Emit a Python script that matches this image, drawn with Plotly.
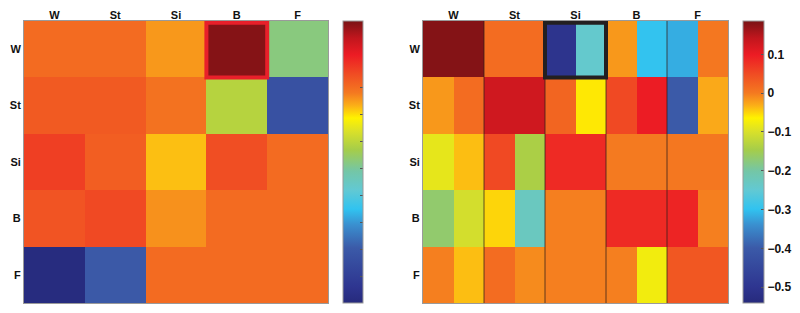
import plotly.graph_objects as go

labels = ["W", "St", "Si", "B", "F"]

# Left panel: 5x5 matrix (unlabelled colour scale)
left_values = [
    [-0.200, -0.200, -0.248, 0.035, -0.477],
    [-0.174, -0.174, -0.211, -0.410, -0.833],
    [-0.133, -0.180, -0.279, -0.154, -0.200],
    [-0.164, -0.148, -0.242, -0.200, -0.200],
    [-0.990, -0.801, -0.200, -0.200, -0.200],
]
left_range = [-1.0, 0.045]
left_ticks = [-0.9, -0.8, -0.7, -0.6, -0.5, -0.4, -0.3, -0.2]

# Right panel: 5 rows x 10 sub-columns (two per label)
right_values = [
    [0.180, 0.180, 0.015, 0.015, -0.505, -0.243, -0.018, -0.297, -0.316, 0.003],
    [-0.018, 0.015, 0.128, 0.128, 0.022, -0.059, 0.052, 0.099, -0.399, -0.028],
    [-0.087, -0.039, 0.052, -0.141, 0.084, 0.084, 0.000, 0.000, 0.003, 0.003],
    [-0.167, -0.105, -0.050, -0.228, -0.003, -0.003, 0.084, 0.084, 0.090, -0.003],
    [-0.003, -0.039, 0.015, -0.010, -0.003, -0.003, -0.003, -0.076, 0.037, 0.037],
]
right_range = [-0.541, 0.186]
right_ticks = [0.1, 0, -0.1, -0.2, -0.3, -0.4, -0.5]
sub_per_label = 2

highlight_left = ("W", "B")
highlight_right = ("W", "Si")

colorscale = [
    [0.000, "#262a7c"], [0.057, "#2e3590"], [0.195, "#3b5aa8"],
    [0.277, "#3a8fcf"], [0.333, "#31c3f0"], [0.401, "#62c9d3"],
    [0.468, "#74c6a6"], [0.543, "#a5cd4a"], [0.610, "#dbe128"],
    [0.656, "#fff200"], [0.702, "#fbad18"], [0.745, "#f47920"],
    [0.809, "#f04e23"], [0.879, "#ed1c24"], [0.940, "#c1161d"],
    [1.000, "#7a1315"],
]

FONT = "Liberation Sans, Arial, sans-serif"
# page body has an 8px default margin; size the figure to fill the rest
OFF = 8
W, H = 800 - OFF, 313 - OFF


def px_x(x):
    return (x - OFF) / W


def px_y(y):
    return (H - (y - OFF)) / H


ydom = [px_y(303), px_y(21)]

fig = go.Figure()

fig.add_trace(go.Heatmap(
    z=left_values, x=list(range(len(labels))), y=list(range(len(labels))),
    colorscale=colorscale, zmin=left_range[0], zmax=left_range[1],
    zsmooth=False, xaxis="x", yaxis="y",
    colorbar=dict(
        x=px_x(343), xanchor="left", y=ydom[0], yanchor="bottom",
        len=ydom[1] - ydom[0], lenmode="fraction", thickness=20,
        outlinewidth=1, outlinecolor="#9a9a9a", xpad=0, ypad=0,
        tickvals=left_ticks, showticklabels=False,
        ticks="inside", ticklen=3, tickcolor="#555",
    ),
))

n_sub = len(right_values[0])
fig.add_trace(go.Heatmap(
    z=right_values, x=list(range(n_sub)), y=list(range(len(labels))),
    colorscale=colorscale, zmin=right_range[0], zmax=right_range[1],
    zsmooth=False, xaxis="x2", yaxis="y2",
    colorbar=dict(
        x=px_x(743), xanchor="left", y=ydom[0], yanchor="bottom",
        len=ydom[1] - ydom[0], lenmode="fraction", thickness=21,
        outlinewidth=1, outlinecolor="#9a9a9a", xpad=0, ypad=0,
        tickvals=right_ticks,
        ticktext=[("\u2212" if v < 0 else "") + f"{abs(v):g}" for v in right_ticks],
        ticks="inside", ticklen=3, tickcolor="#555",
        tickfont=dict(family=FONT, size=12, color="#111", weight="bold"),
    ),
))

axis_font = dict(family=FONT, size=11, color="#111", weight="bold")
common_x = dict(side="top", showgrid=False, zeroline=False, ticks="",
                tickfont=axis_font, showline=True, mirror=True,
                linecolor="#9a9a9a", linewidth=1, automargin=False,
                ticklabelstandoff=-3)
common_y = dict(showgrid=False, zeroline=False, ticks="", tickfont=axis_font,
                showline=True, mirror=True, linecolor="#9a9a9a", linewidth=1,
                tickvals=list(range(len(labels))), ticktext=labels,
                range=[len(labels) - 0.5, -0.5], domain=ydom,
                ticklabelstandoff=0, automargin=False)

fig.update_layout(
    width=W, height=H, margin=dict(l=0, r=0, t=0, b=0, autoexpand=False),
    paper_bgcolor="white", plot_bgcolor="white", showlegend=False,
    xaxis=dict(common_x, domain=[px_x(24), px_x(328)], anchor="y",
               tickvals=list(range(len(labels))), ticktext=labels,
               range=[-0.5, len(labels) - 0.5]),
    yaxis=dict(common_y, anchor="x"),
    xaxis2=dict(common_x, domain=[px_x(423), px_x(728)], anchor="y2",
                tickvals=[i * sub_per_label + (sub_per_label - 1) / 2 for i in range(len(labels))],
                ticktext=labels, range=[-0.5, n_sub - 0.5]),
    yaxis2=dict(common_y, anchor="x2"),
)

# separators between label groups in right panel
for i in range(1, len(labels)):
    xb = i * sub_per_label - 0.5
    fig.add_shape(type="line", xref="x2", yref="y2", x0=xb, x1=xb,
                  y0=-0.5, y1=len(labels) - 0.5,
                  line=dict(color="rgba(50,30,25,0.75)", width=1))

# highlight boxes
r, c = labels.index(highlight_left[0]), labels.index(highlight_left[1])
fig.add_shape(type="rect", xref="x", yref="y", x0=c - 0.5, x1=c + 0.5,
              y0=r - 0.5 + 0.03, y1=r + 0.5, line=dict(color="#e8202a", width=4))
r, c = labels.index(highlight_right[0]), labels.index(highlight_right[1])
fig.add_shape(type="rect", xref="x2", yref="y2",
              x0=c * sub_per_label - 0.5, x1=(c + 1) * sub_per_label - 0.5,
              y0=r - 0.5 + 0.03, y1=r + 0.5, line=dict(color="#231f20", width=4))

fig.write_html("out.html")
